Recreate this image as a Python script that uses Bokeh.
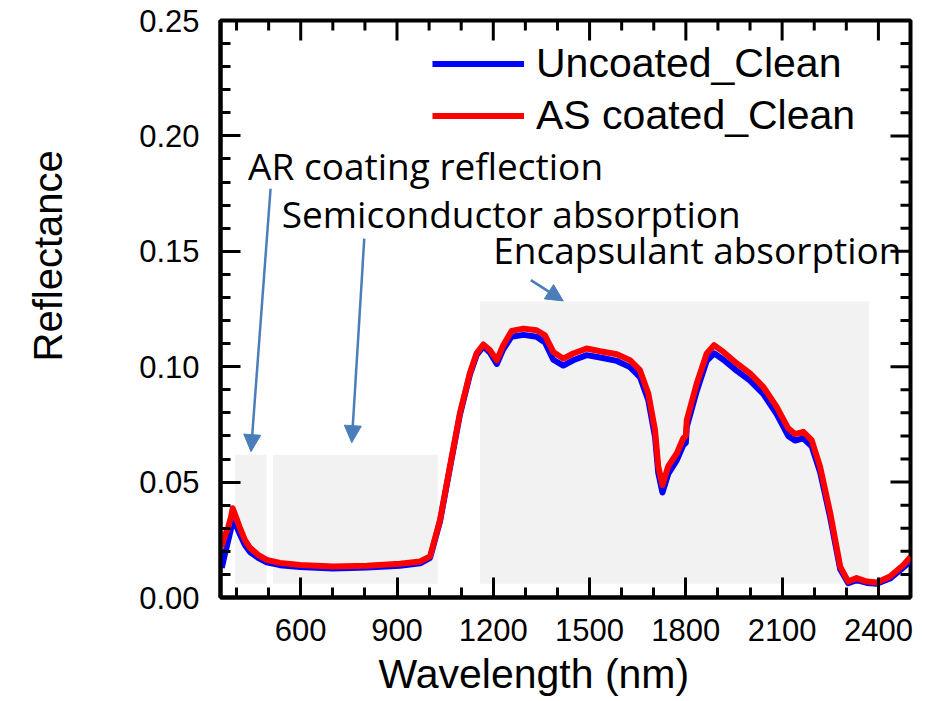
import numpy as np
from bokeh.plotting import figure
from bokeh.models import (Range1d, FixedTicker, LinearAxis, Legend, LegendItem,
                          Arrow, NormalHead, Label, Title)
from bokeh.embed import file_html
from bokeh.resources import INLINE

# ---------------- data ----------------
wavelength = [354, 364, 373, 383, 388, 398, 411, 426, 442, 467, 494, 535, 598,
              700, 806, 909, 972, 1003, 1034, 1065, 1096, 1127, 1148, 1169,
              1190, 1211, 1231, 1257, 1294, 1335, 1361, 1387, 1418, 1449,
              1491, 1533, 1585, 1626, 1657, 1683, 1704, 1714, 1727, 1745,
              1772, 1792, 1800, 1803, 1834, 1865, 1888, 1917, 1959, 2000,
              2041, 2083, 2119, 2140, 2166, 2192, 2218, 2250, 2281, 2306,
              2332, 2364, 2395, 2436, 2478, 2500]

as_coated = [0.0220, 0.0270, 0.0300, 0.0350, 0.0387, 0.0350, 0.0300, 0.0250,
             0.0215, 0.0185, 0.0163, 0.0150, 0.0141, 0.0134, 0.0138, 0.0146,
             0.0156, 0.0178, 0.0336, 0.0568, 0.0798, 0.0972, 0.1058, 0.1096,
             0.1071, 0.1028, 0.1093, 0.1155, 0.1165, 0.1158, 0.1136, 0.1064,
             0.1035, 0.1057, 0.1079, 0.1067, 0.1054, 0.1028, 0.0985, 0.0884,
             0.0725, 0.0568, 0.0487, 0.0568, 0.0625, 0.0690, 0.0700, 0.0769,
             0.0927, 0.1057, 0.1093, 0.1064, 0.1014, 0.0971, 0.0913, 0.0826,
             0.0733, 0.0708, 0.0718, 0.0682, 0.0568, 0.0365, 0.0134, 0.0069,
             0.0084, 0.0069, 0.0065, 0.0091, 0.0141, 0.0175]

uncoated = [0.0128, 0.0190, 0.0240, 0.0300, 0.0343, 0.0315, 0.0272, 0.0228,
            0.0197, 0.0172, 0.0152, 0.0140, 0.0132, 0.0126, 0.0130, 0.0138,
            0.0148, 0.0172, 0.0330, 0.0562, 0.0792, 0.0965, 0.1050, 0.1088,
            0.1060, 0.1012, 0.1075, 0.1130, 0.1138, 0.1130, 0.1105, 0.1030,
            0.1005, 0.1028, 0.1050, 0.1040, 0.1025, 0.0998, 0.0955, 0.0855,
            0.0695, 0.0540, 0.0455, 0.0535, 0.0595, 0.0660, 0.0670, 0.0740,
            0.0895, 0.1025, 0.1058, 0.1030, 0.0982, 0.0940, 0.0882, 0.0795,
            0.0700, 0.0680, 0.0690, 0.0655, 0.0545, 0.0345, 0.0122, 0.0062,
            0.0075, 0.0063, 0.0060, 0.0082, 0.0130, 0.0160]

series_names = ["Uncoated_Clean", "AS coated_Clean"]

x_ticks = [600, 900, 1200, 1500, 1800, 2100, 2400]
x_minor = [400, 500, 700, 800, 1000, 1100, 1300, 1400, 1600, 1700, 1900,
           2000, 2200, 2300]
y_ticks = [0.0, 0.05, 0.10, 0.15, 0.20, 0.25]
y_tick_labels = ["0.00", "0.05", "0.10", "0.15", "0.20", "0.25"]
y_minor = [0.01, 0.02, 0.03, 0.04, 0.06, 0.07, 0.08, 0.09, 0.11, 0.12, 0.13,
           0.14, 0.16, 0.17, 0.18, 0.19, 0.21, 0.22, 0.23, 0.24]

x_title = "Wavelength (nm)"
y_title = "Reflectance"

# shaded regions (wavelength left, right, reflectance bottom, top)
region_left = [395, 514, 1159]
region_right = [494, 1027, 2371]
region_bottom = [0.006, 0.006, 0.006]
region_top = [0.0618, 0.0618, 0.1284]

# annotations: text and arrow (tail -> head), in data units
notes = ["AR coating reflection", "Semiconductor absorption", "Encapsulant absorption"]
note_x = [436, 541, 1200]
note_y = [0.1872, 0.1665, 0.1506]
arrow_x0 = [506, 798, 1317]
arrow_y0 = [0.1771, 0.1555, 0.1375]
arrow_x1 = [445, 759, 1418]
arrow_y1 = [0.0632, 0.0671, 0.1285]

X_MIN, X_MAX, Y_MIN, Y_MAX = 350, 2500, 0.0, 0.25

# ---------------- figure ----------------
ARIAL = "Liberation Sans"
p = figure(width=928, height=701, output_backend="svg", toolbar_location=None,
           x_range=Range1d(X_MIN, X_MAX), y_range=Range1d(Y_MIN, Y_MAX),
           min_border_left=220, min_border_right=18, min_border_top=20,
           min_border_bottom=103, x_axis_location=None, y_axis_location=None)
p.xgrid.visible = False
p.ygrid.visible = False
p.outline_line_color = "black"
p.outline_line_width = 4
p.background_fill_color = "white"
p.border_fill_color = "white"

p.quad(left=region_left, right=region_right, bottom=region_bottom, top=region_top,
       fill_color="#f2f2f2", line_color=None)


def style(ax):
    ax.axis_line_width = 4
    ax.axis_line_color = "black"
    ax.major_tick_in = 20
    ax.major_tick_out = 0
    ax.minor_tick_in = 10
    ax.minor_tick_out = 0
    ax.major_tick_line_width = 3
    ax.minor_tick_line_width = 3
    ax.major_tick_line_color = "black"
    ax.minor_tick_line_color = "black"
    ax.major_label_text_font = ARIAL
    ax.major_label_text_color = "black"
    ax.major_label_text_font_size = "31px"


xt = FixedTicker(ticks=x_ticks, minor_ticks=x_minor)
yt = FixedTicker(ticks=y_ticks, minor_ticks=y_minor)

xb = LinearAxis(ticker=xt)
style(xb)
xb.major_label_standoff = 21
p.add_layout(xb, "below")

yl = LinearAxis(ticker=yt)
style(yl)
yl.major_label_standoff = 21
yl.major_label_overrides = {t: s for t, s in zip(y_ticks, y_tick_labels)}
p.add_layout(yl, "left")

# axis titles, placed along the axes where the reference puts them
p.add_layout(Title(text=x_title, align="left", offset=158, vertical_align="bottom",
                   standoff=10, text_font=ARIAL, text_font_size="41px",
                   text_font_style="normal", text_color="black"), "below")
p.add_layout(Title(text=y_title + "\n", align="left", offset=236,
                   vertical_align="bottom", standoff=46, text_font=ARIAL,
                   text_font_size="40px", text_font_style="normal",
                   text_color="black"), "left")

# mirrored inward ticks on the top and right edges
n_x, n_xm, n_y, n_ym = len(x_ticks), len(x_minor), len(y_ticks), len(y_minor)
p.ray(x=x_ticks, y=[Y_MAX] * n_x, length=20, length_units="screen",
      angle=-np.pi / 2, line_color="black", line_width=3)
p.ray(x=x_minor, y=[Y_MAX] * n_xm, length=10, length_units="screen",
      angle=-np.pi / 2, line_color="black", line_width=3)
p.ray(x=[X_MAX] * n_y, y=y_ticks, length=20, length_units="screen",
      angle=np.pi, line_color="black", line_width=3)
p.ray(x=[X_MAX] * n_ym, y=y_minor, length=10, length_units="screen",
      angle=np.pi, line_color="black", line_width=3)

r_blue = p.line(wavelength, uncoated, line_color="#0000ff", line_width=6,
                line_join="round")
r_red = p.line(wavelength, as_coated, line_color="#ff0000", line_width=6,
               line_join="round")

legend = Legend(items=[LegendItem(label=series_names[0], renderers=[r_blue]),
                       LegendItem(label=series_names[1], renderers=[r_red])],
                location=(212, 458), glyph_width=92, glyph_height=45,
                label_height=45, label_standoff=12, spacing=5, padding=0,
                margin=0, border_line_color=None, background_fill_alpha=0,
                label_text_font=ARIAL, label_text_font_size="41px",
                label_text_color="black")
p.add_layout(legend, "center")

BLUE_ARROW = "#4a7ebb"
for i in range(len(notes)):
    p.add_layout(Arrow(end=NormalHead(size=17, fill_color=BLUE_ARROW,
                                      line_color=BLUE_ARROW, line_width=1),
                       x_start=arrow_x0[i], y_start=arrow_y0[i],
                       x_end=arrow_x1[i], y_end=arrow_y1[i],
                       line_color=BLUE_ARROW, line_width=2.5))
    p.add_layout(Label(x=note_x[i], y=note_y[i], text=notes[i],
                       text_font="Open Sans", text_font_size="37px",
                       text_color="black", text_baseline="alphabetic",
                       text_align="left"))

open("out.html", "w").write(file_html(p, INLINE))
